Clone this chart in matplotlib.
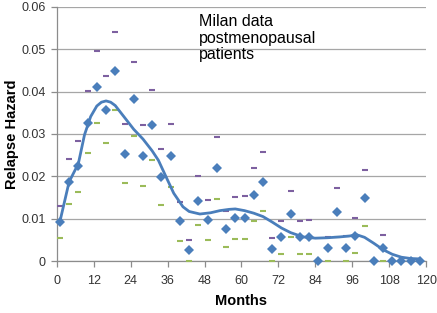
import matplotlib
matplotlib.use("Agg")
import matplotlib.pyplot as plt

plt.rcParams["font.family"] = ["Liberation Sans", "DejaVu Sans"]

# observed hazard, one point every 3 months
months = [1, 4, 7, 10, 13, 16, 19, 22, 25, 28, 31, 34, 37, 40, 43, 46, 49, 52,
          55, 58, 61, 64, 67, 70, 73, 76, 79, 82, 85, 88, 91, 94, 97, 100, 103,
          106, 109, 112, 115, 118]
hazard = [0.0093, 0.0187, 0.0224, 0.0327, 0.0411, 0.0357, 0.0448, 0.0253,
          0.0382, 0.0249, 0.0321, 0.0198, 0.0249, 0.0094, 0.0025, 0.0142,
          0.0097, 0.0220, 0.0075, 0.0101, 0.0102, 0.0157, 0.0187, 0.0028,
          0.0056, 0.0111, 0.0057, 0.0057, 0.0, 0.0030, 0.0116, 0.0031,
          0.0060, 0.0149, 0.0, 0.0031, 0.0, 0.0, 0.0, 0.0]
upper = [0.0131, 0.0241, 0.0283, 0.0402, 0.0495, 0.0437, 0.0540, 0.0324,
         0.0470, 0.0322, 0.0404, 0.0264, 0.0324, 0.0140, 0.0049, 0.0201,
         0.0144, 0.0294, 0.0119, 0.0151, 0.0154, 0.0220, 0.0257, 0.0054,
         0.0094, 0.0165, 0.0095, 0.0096, 0.0, 0.0057, 0.0173, 0.0058,
         0.0101, 0.0216, 0.0, 0.0061, 0.0, 0.0, 0.0, 0.0]
lower = [0.0055, 0.0134, 0.0164, 0.0256, 0.0327, 0.0278, 0.0357, 0.0184,
         0.0295, 0.0178, 0.0238, 0.0133, 0.0174, 0.0048, 0.0, 0.0085,
         0.0050, 0.0147, 0.0033, 0.0052, 0.0052, 0.0094, 0.0117, 0.0,
         0.0017, 0.0056, 0.0017, 0.0017, 0.0, 0.0, 0.0057, 0.0,
         0.0018, 0.0083, 0.0, 0.0, 0.0, 0.0, 0.0, 0.0]

# smoothed hazard curve
curve_months = [1, 4, 7, 9, 11, 13, 14.5, 16, 17.5, 19, 22, 25, 28, 31, 33,
                36, 38, 41, 43, 46.5, 50, 53, 56, 58, 61, 64, 67, 70, 73, 76,
                80, 84, 88, 92, 95, 97.5, 100, 103, 106, 109, 112, 115, 118]
curve_hazard = [0.0093, 0.0187, 0.0230, 0.0298, 0.0341, 0.0366, 0.0375,
                0.0378, 0.0375, 0.0367, 0.0339, 0.0311, 0.0288, 0.0260,
                0.0238, 0.0191, 0.0160, 0.0128, 0.0117, 0.0111, 0.0114,
                0.0119, 0.0122, 0.0123, 0.0119, 0.0113, 0.0105, 0.0092,
                0.0078, 0.0067, 0.0057, 0.0054, 0.0055, 0.0057, 0.0059,
                0.0062, 0.0056, 0.0042, 0.0027, 0.0016, 0.0009, 0.0006,
                0.0005]

x_ticks = [0, 12, 24, 36, 48, 60, 72, 84, 96, 108, 120]
y_ticks = [0, 0.01, 0.02, 0.03, 0.04, 0.05, 0.06]
y_labels = ["0", "0.01", "0.02", "0.03", "0.04", "0.05", "0.06"]

blue = "#4A7EBB"
purple = "#7D60A0"
green = "#9BBB59"
grey = "#8C8C8C"

fig = plt.figure(figsize=(4.37, 3.13), dpi=100)
ax = fig.add_axes([0.130, 0.166, 0.845, 0.812])

ax.yaxis.grid(True, color="#A6A6A6", lw=0.9)
ax.set_axisbelow(True)

ax.plot(months, upper, ls="none", marker="_", ms=5, mew=1.5, color=purple,
        clip_on=False, zorder=3)
ax.plot(months, lower, ls="none", marker="_", ms=5, mew=1.5, color=green,
        clip_on=False, zorder=3)
ax.plot(months, hazard, ls="none", marker="D", ms=4.6, mew=0, color=blue,
        clip_on=False, zorder=4)
ax.plot(curve_months, curve_hazard, color=blue, lw=2, zorder=5,
        solid_capstyle="round", solid_joinstyle="round")

ax.text(199 / 437, 1 - 38 / 313, "Milan data\npostmenopausal\npatients",
        transform=fig.transFigure, fontsize=11.5, va="center", ha="left",
        linespacing=1.15, color="black")

ax.set_xlim(0, 120)
ax.set_ylim(0, 0.06)
ax.set_xticks(x_ticks)
ax.set_yticks(y_ticks, y_labels)

for s in ("top", "right"):
    ax.spines[s].set_visible(False)
for s in ("left", "bottom"):
    ax.spines[s].set_color(grey)
    ax.spines[s].set_linewidth(0.9)
ax.tick_params(axis="both", direction="out", length=4, width=0.9,
               color=grey, labelsize=9, labelcolor="#333333")
ax.tick_params(axis="x", pad=6)
ax.tick_params(axis="y", pad=4)

ax.set_xlabel("Months", fontsize=10.5, fontweight="bold", labelpad=5)
ax.set_ylabel("Relapse Hazard", fontsize=10.5, fontweight="bold",
              va="center")
ax.yaxis.set_label_coords(-0.12, 0.5)

fig.savefig("out.png", dpi=100)
